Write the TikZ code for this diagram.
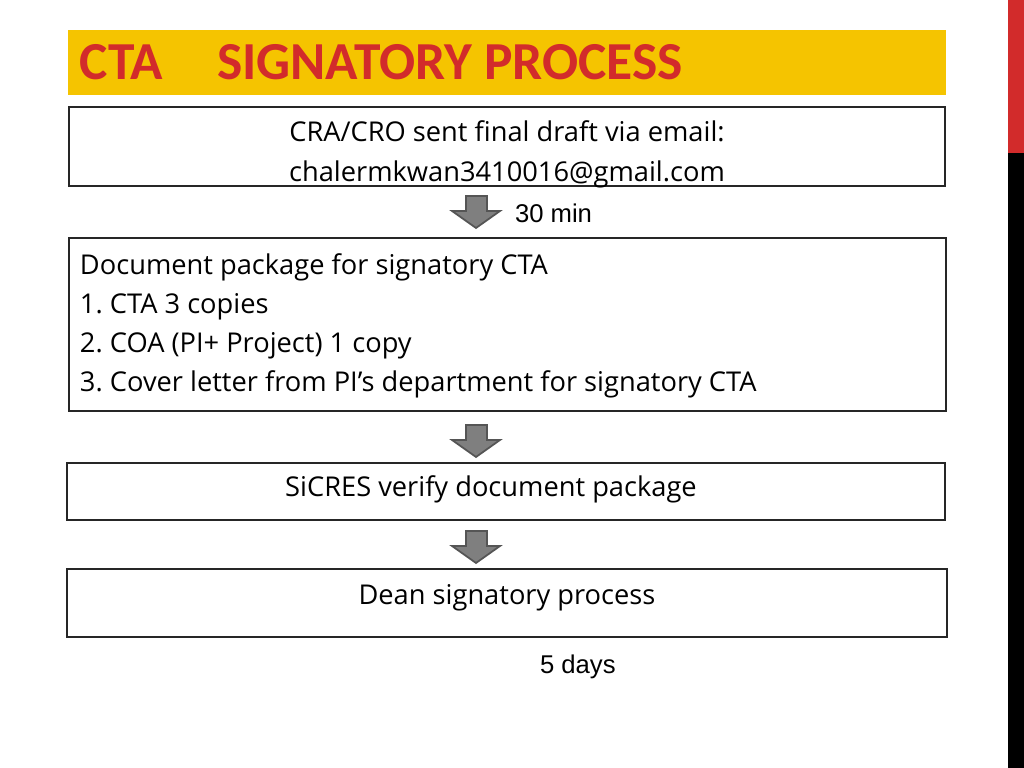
\documentclass[tikz,border=0pt]{standalone}
\usepackage{fontspec}
\setmainfont{Open Sans}
\newfontfamily\headfont{Carlito}
\newfontfamily\arialfont{Liberation Sans}
\frenchspacing

\definecolor{titleyellow}{HTML}{F5C400}
\definecolor{titlered}{HTML}{D22B2B}
\definecolor{arrowgray}{HTML}{7F7F7F}
\definecolor{arrowline}{HTML}{555555}

\begin{document}
\begin{tikzpicture}[x=0.01cm,y=-0.01cm,
  every node/.style={inner sep=0pt,outer sep=0pt},
  stepbox/.style={draw=black!85,line width=0.35pt},
  boxtext/.style={font=\fontsize{7.75}{9}\selectfont,anchor=base},
  itemtext/.style={boxtext,anchor=base west},
  titletext/.style={anchor=base west,text=titlered,font=\headfont\bfseries\fontsize{15.2}{17}\selectfont},
  timetext/.style={font=\arialfont\fontsize{7.3}{9}\selectfont,anchor=base west},
  blockarrow/.style={fill=arrowgray,draw=arrowline,line width=0.5pt,line join=miter}]
\useasboundingbox (0,0) rectangle (1024,768);

% title bar
\fill[titleyellow] (68,30) rectangle (946,95);
\node[titletext] (tcta) at (80,80) {CTA};
\node[titletext] (tproc) at (217,80) {SIGNATORY PROCESS};

% side bar
\fill[titlered] (1008,0) rectangle (1024,153);
\fill[black] (1008,153) rectangle (1024,768);

% boxes
\draw[stepbox] (69,107) rectangle (945,186);
\node[boxtext] (mail1) at (507,142) {CRA/CRO sent final draft via email:};
\node[boxtext] (mail2) at (507,182) {chalermkwan3410016@gmail.com};

\draw[stepbox] (69,238) rectangle (946,411);
\node[itemtext] (pack0) at (80,275) {Document package for signatory CTA};
\node[itemtext] (pack1) at (80,314) {1. CTA 3 copies};
\node[itemtext] (pack2) at (80,353) {2. COA (PI+ Project) 1 copy};
\node[itemtext] (pack3) at (80,392) {3. Cover letter from PI’s department for signatory CTA};

\draw[stepbox] (67,463) rectangle (945,520);
\node[boxtext] (verify) at (491,497) {SiCRES verify document package};

\draw[stepbox] (67,569) rectangle (947,637);
\node[boxtext] (dean) at (507,605) {Dean signatory process};

% arrows
\foreach \ay in {196,425,531}
  \draw[blockarrow] (466,\ay) -- (487,\ay) -- (487,\ay+15) -- (500,\ay+15)
    -- (476,\ay+32) -- (452,\ay+15) -- (466,\ay+15) -- cycle;

\node[timetext] (t30) at (515,223) {30 min};
\node[timetext] (t5) at (540,674) {5 days};
\end{tikzpicture}
\end{document}
